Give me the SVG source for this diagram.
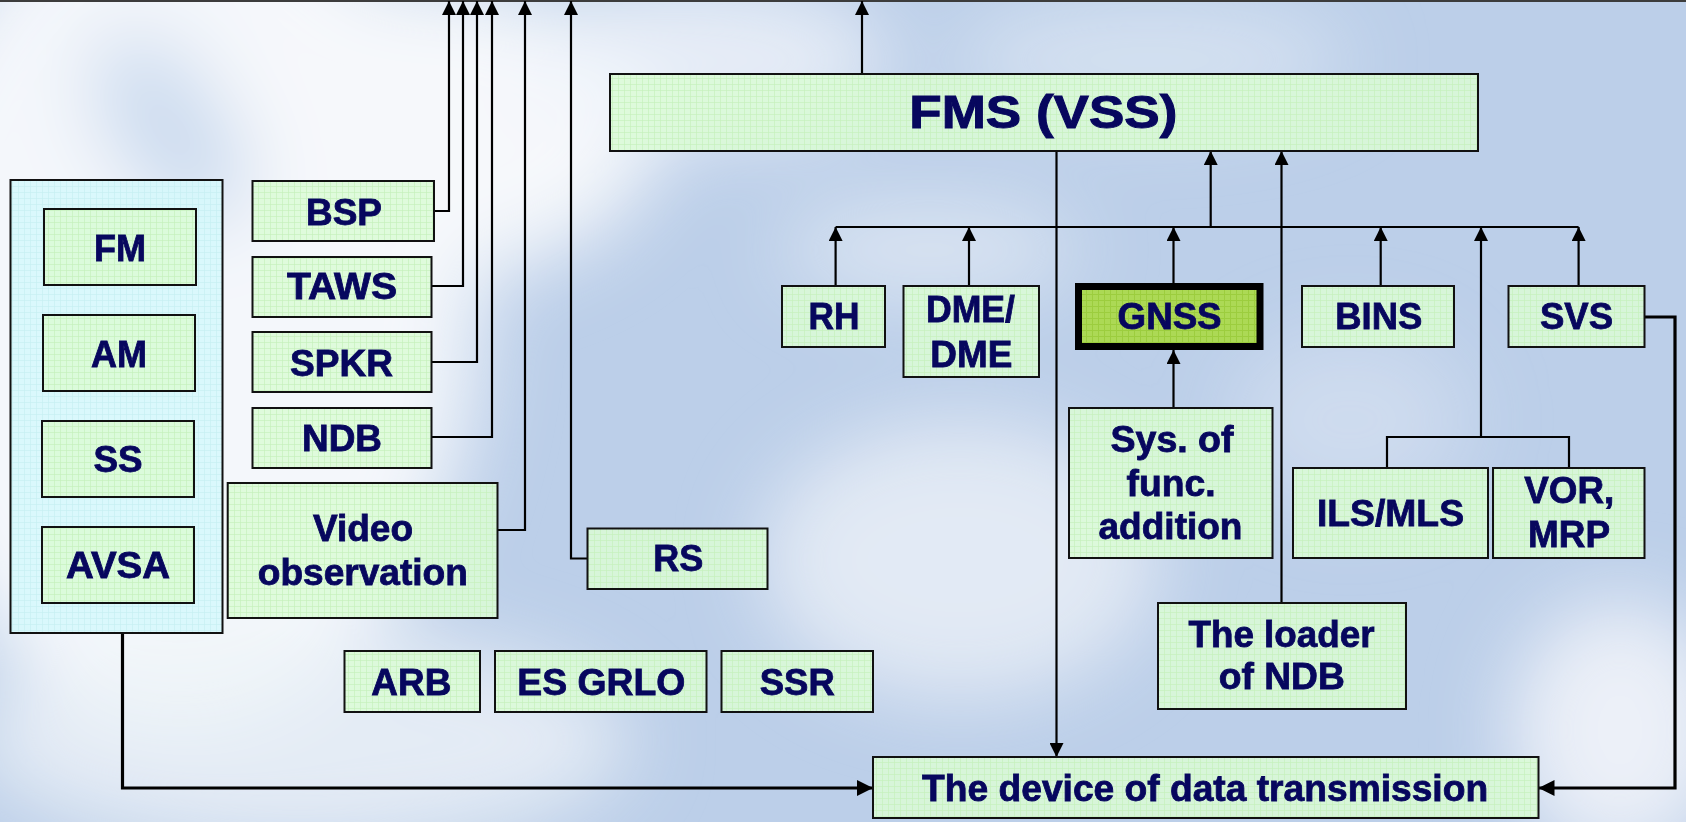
<svg xmlns="http://www.w3.org/2000/svg" width="1686" height="822" viewBox="0 0 1686 822">
<defs>
  <filter id="blur" x="-50%" y="-50%" width="200%" height="200%"><feGaussianBlur stdDeviation="40"/></filter>
  <pattern id="grid" width="6" height="6" patternUnits="userSpaceOnUse">
    <rect width="6" height="6" fill="#dbfbd6" fill-opacity="0.86"/>
    <path d="M0,0.5H6M0.5,0V6" stroke="#c6f2bc" stroke-width="1" stroke-opacity="0.7"/>
  </pattern>
  <pattern id="gridc" width="6" height="6" patternUnits="userSpaceOnUse">
    <rect width="6" height="6" fill="#d6f8fb" fill-opacity="0.88"/>
    <path d="M0,0.5H6M0.5,0V6" stroke="#c4eef2" stroke-width="1" stroke-opacity="0.6"/>
  </pattern>
  <pattern id="gridg" width="6" height="6" patternUnits="userSpaceOnUse">
    <rect width="6" height="6" fill="#acd955"/>
    <path d="M0,0.5H6M0.5,0V6" stroke="#9ccd3e" stroke-width="1"/>
  </pattern>
  <marker id="arr" viewBox="0 0 14 14" refX="14" refY="7" markerWidth="14" markerHeight="14" markerUnits="userSpaceOnUse" orient="auto">
    <path d="M0,0 L14,7 L0,14 Z" fill="#000"/>
  </marker>
  <marker id="arrL" viewBox="0 0 16 16" refX="16" refY="8" markerWidth="16" markerHeight="16" markerUnits="userSpaceOnUse" orient="auto">
    <path d="M0,0 L16,8 L0,16 Z" fill="#000"/>
  </marker>
  <style>
    .box { fill: url(#grid); stroke: #111; stroke-width: 2; }
    .cont { fill: url(#gridc); stroke: #111; stroke-width: 2; }
    .gnss { fill: url(#gridg); stroke: #000; stroke-width: 7; }
    .t { font-family: "Liberation Sans", Arial, sans-serif; font-weight: bold; font-size: 36px; fill: #07075e; stroke: #07075e; stroke-width: 0.8px; text-anchor: middle; }
    .big { font-size: 47px; stroke-width: 1px; }
    .c { fill: none; stroke: #000; stroke-width: 2.2; }
    .c3 { fill: none; stroke: #000; stroke-width: 3.2; }
  </style>
</defs>

<!-- sky background -->
<g id="background">
  <rect width="1686" height="822" fill="#bccfe9"/>
  <g filter="url(#blur)">
    <ellipse cx="180" cy="300" rx="300" ry="430" fill="#f4f7fb"/>
    <ellipse cx="420" cy="130" rx="240" ry="150" fill="#f6f8fb"/>
    <ellipse cx="700" cy="60" rx="190" ry="80" fill="#f0f4fa" opacity="0.8"/>
    <ellipse cx="960" cy="560" rx="200" ry="140" fill="#f2f5fa" opacity="0.7"/>
    <ellipse cx="300" cy="740" rx="330" ry="110" fill="#eef2f8" opacity="0.8"/>
    <ellipse cx="1150" cy="60" rx="200" ry="60" fill="#eef3fa" opacity="0.5"/>
    <ellipse cx="1620" cy="730" rx="110" ry="130" fill="#f4f6fa" opacity="0.85"/>
    <ellipse cx="930" cy="250" rx="150" ry="50" fill="#f2f5fa" opacity="0.55"/>
    <ellipse cx="1350" cy="420" rx="120" ry="90" fill="#e8eef8" opacity="0.4"/>
    <ellipse cx="170" cy="130" rx="55" ry="110" fill="#b8cde9" opacity="0.7" transform="rotate(-35 170 130)"/>
  </g>
  <rect width="1686" height="2" fill="#3c3c3c"/>
</g>

<!-- connectors -->
<g id="connectors">
  <path class="c" d="M434,211 H449 V1" marker-end="url(#arr)"/>
  <path class="c" d="M431.5,286 H463 V1" marker-end="url(#arr)"/>
  <path class="c" d="M431.5,362 H477 V1" marker-end="url(#arr)"/>
  <path class="c" d="M431.5,437 H492 V1" marker-end="url(#arr)"/>
  <path class="c" d="M497.5,530 H525 V1" marker-end="url(#arr)"/>
  <path class="c" d="M587.5,558.5 H571 V1" marker-end="url(#arr)"/>
  <path class="c" d="M862,74 V1" marker-end="url(#arr)"/>
  <path class="c" d="M835.6,227 H1578.6"/>
  <path class="c" d="M835.6,286 V227" marker-end="url(#arr)"/>
  <path class="c" d="M969,286 V227" marker-end="url(#arr)"/>
  <path class="c" d="M1173.5,283 V227" marker-end="url(#arr)"/>
  <path class="c" d="M1380.7,286 V227" marker-end="url(#arr)"/>
  <path class="c" d="M1481,437 V227" marker-end="url(#arr)"/>
  <path class="c" d="M1578.6,286 V227" marker-end="url(#arr)"/>
  <path class="c" d="M1210.7,227 V151" marker-end="url(#arr)"/>
  <path class="c" d="M1281.5,603 V151" marker-end="url(#arr)"/>
  <path class="c" d="M1173.5,408 V350" marker-end="url(#arr)"/>
  <path class="c" d="M1387,468 V437 H1569 V468"/>
  <path class="c" d="M1056.5,151 V757" marker-end="url(#arr)"/>
  <path class="c3" d="M122.5,633 V788 H873" marker-end="url(#arrL)"/>
  <path class="c3" d="M1644.5,317 H1675 V788 H1538.5" marker-end="url(#arrL)"/>
</g>

<!-- nodes -->
<g id="container"><rect class="cont" x="10.5" y="180" width="212" height="453"/></g>
<g id="FM"><rect class="box" x="44" y="209" width="152" height="76"/><text class="t" x="120" y="261" textLength="52" lengthAdjust="spacingAndGlyphs">FM</text></g>
<g id="AM"><rect class="box" x="43" y="315" width="152" height="76"/><text class="t" x="119" y="366.5" textLength="56" lengthAdjust="spacingAndGlyphs">AM</text></g>
<g id="SS"><rect class="box" x="42" y="421" width="152" height="76"/><text class="t" x="118" y="472" textLength="49" lengthAdjust="spacingAndGlyphs">SS</text></g>
<g id="AVSA"><rect class="box" x="42" y="527" width="152" height="76"/><text class="t" x="118" y="578" textLength="104" lengthAdjust="spacingAndGlyphs">AVSA</text></g>
<g id="BSP"><rect class="box" x="252.5" y="181" width="181.5" height="60"/><text class="t" x="344" y="225" textLength="76" lengthAdjust="spacingAndGlyphs">BSP</text></g>
<g id="TAWS"><rect class="box" x="252.5" y="257" width="179" height="60"/><text class="t" x="342" y="299" textLength="110" lengthAdjust="spacingAndGlyphs">TAWS</text></g>
<g id="SPKR"><rect class="box" x="252.5" y="332" width="179" height="60"/><text class="t" x="341.5" y="376" textLength="103" lengthAdjust="spacingAndGlyphs">SPKR</text></g>
<g id="NDB"><rect class="box" x="252.5" y="408" width="179" height="60"/><text class="t" x="342" y="451" textLength="80" lengthAdjust="spacingAndGlyphs">NDB</text></g>
<g id="Video"><rect class="box" x="227.7" y="483" width="269.8" height="135"/><text class="t" x="363" y="540.7" textLength="100" lengthAdjust="spacingAndGlyphs">Video</text><text class="t" x="362.8" y="585" textLength="210" lengthAdjust="spacingAndGlyphs">observation</text></g>
<g id="RS"><rect class="box" x="587.5" y="528.5" width="180" height="60.5"/><text class="t" x="678.3" y="571" textLength="50" lengthAdjust="spacingAndGlyphs">RS</text></g>
<g id="ARB"><rect class="box" x="344.5" y="651" width="135.5" height="61"/><text class="t" x="411.3" y="695" textLength="80" lengthAdjust="spacingAndGlyphs">ARB</text></g>
<g id="ESGRLO"><rect class="box" x="495" y="651" width="211.5" height="61"/><text class="t" x="601.3" y="695" textLength="168" lengthAdjust="spacingAndGlyphs">ES GRLO</text></g>
<g id="SSR"><rect class="box" x="721.5" y="651" width="151.5" height="61"/><text class="t" x="797.3" y="695" textLength="75" lengthAdjust="spacingAndGlyphs">SSR</text></g>
<g id="FMS"><rect class="box" x="610" y="74" width="868" height="77"/><text class="t big" x="1043.3" y="128.3" textLength="268" lengthAdjust="spacingAndGlyphs">FMS (VSS)</text></g>
<g id="RH"><rect class="box" x="782" y="286" width="103" height="61"/><text class="t" x="834" y="329" textLength="51" lengthAdjust="spacingAndGlyphs">RH</text></g>
<g id="DME"><rect class="box" x="903.5" y="286" width="135.5" height="91"/><text class="t" x="970.5" y="322" textLength="89" lengthAdjust="spacingAndGlyphs">DME/</text><text class="t" x="971.3" y="367" textLength="82" lengthAdjust="spacingAndGlyphs">DME</text></g>
<g id="GNSS"><rect class="gnss" x="1078.5" y="286.5" width="181.5" height="60"/><text class="t" x="1169.6" y="329" textLength="104" lengthAdjust="spacingAndGlyphs">GNSS</text></g>
<g id="BINS"><rect class="box" x="1302" y="286" width="152" height="61"/><text class="t" x="1378.8" y="329" textLength="87" lengthAdjust="spacingAndGlyphs">BINS</text></g>
<g id="SVS"><rect class="box" x="1508.5" y="286" width="136" height="61"/><text class="t" x="1576.5" y="329" textLength="73" lengthAdjust="spacingAndGlyphs">SVS</text></g>
<g id="SysFunc"><rect class="box" x="1069" y="408" width="203.5" height="150"/><text class="t" x="1172" y="451.7" textLength="123" lengthAdjust="spacingAndGlyphs">Sys. of</text><text class="t" x="1171.1" y="495.7" textLength="89" lengthAdjust="spacingAndGlyphs">func.</text><text class="t" x="1170.5" y="539.3" textLength="144" lengthAdjust="spacingAndGlyphs">addition</text></g>
<g id="ILSMLS"><rect class="box" x="1293" y="468" width="195" height="90"/><text class="t" x="1390.5" y="526" textLength="147" lengthAdjust="spacingAndGlyphs">ILS/MLS</text></g>
<g id="VORMRP"><rect class="box" x="1493" y="468" width="151.5" height="90"/><text class="t" x="1569.3" y="503" textLength="90" lengthAdjust="spacingAndGlyphs">VOR,</text><text class="t" x="1569" y="547.3" textLength="82" lengthAdjust="spacingAndGlyphs">MRP</text></g>
<g id="Loader"><rect class="box" x="1158" y="603" width="248" height="106"/><text class="t" x="1281.5" y="647.3" textLength="186" lengthAdjust="spacingAndGlyphs">The loader</text><text class="t" x="1281.8" y="689" textLength="126" lengthAdjust="spacingAndGlyphs">of NDB</text></g>
<g id="Device"><rect class="box" x="873" y="757" width="665.5" height="61"/><text class="t" x="1205.1" y="800.7" textLength="566" lengthAdjust="spacingAndGlyphs">The device of data transmission</text></g>
</svg>
